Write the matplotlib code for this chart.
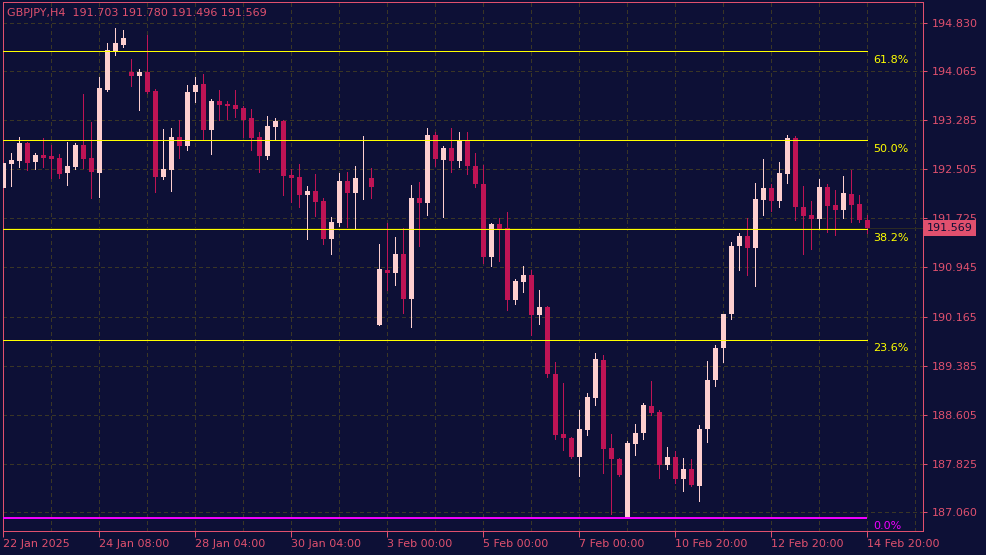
import matplotlib
matplotlib.use("Agg")
import matplotlib.pyplot as plt
import matplotlib.transforms as mtransforms
import numpy as np

# ---------------- data ----------------
title_text = "GBPJPY,H4  191.703 191.780 191.496 191.569"

opens = [192.21, 192.58, 192.64, 192.92, 192.62, 192.73, 192.71, 192.68, 192.44, 192.54,
         192.89, 192.68, 192.44, 193.76, 194.38, 194.48, 194.05, 193.98, 194.05, 193.75,
         192.38, 192.49, 193.02, 192.87, 193.73, 193.86, 193.13, 193.59, 193.54, 193.52,
         193.48, 193.32, 193.02, 192.71, 193.18, 193.27, 192.41, 192.38, 192.10, 192.16,
         192.00, 191.40, 191.65, 192.32, 192.13, 192.36, 192.37, 190.03, 190.91, 190.86,
         191.16, 190.45, 192.05, 191.97, 193.05, 192.65, 192.84, 192.64, 192.97, 192.56,
         192.27, 191.11, 191.64, 191.57, 190.43, 190.72, 190.83, 190.19, 190.32, 189.26,
         188.30, 188.24, 187.94, 188.37, 188.88, 189.48, 188.08, 187.91, 186.99, 188.14,
         188.32, 188.75, 188.65, 187.81, 187.94, 187.59, 187.75, 187.48, 188.38, 189.16,
         189.66, 190.20, 191.28, 191.45, 191.25, 192.02, 192.21, 192.00, 192.43, 193.00,
         191.91, 191.78, 191.72, 192.22, 191.94, 191.86, 192.11, 191.95, 191.703]
highs = [192.75, 192.76, 193.02, 192.93, 192.76, 193.00, 192.89, 192.75, 192.94, 192.92,
         193.70, 193.25, 193.97, 194.51, 194.75, 194.71, 194.25, 194.10, 194.64, 193.78,
         193.14, 193.16, 193.28, 193.84, 193.97, 194.02, 193.62, 193.76, 193.59, 193.76,
         193.51, 193.46, 193.10, 193.35, 193.32, 193.29, 192.51, 192.59, 192.24, 192.43,
         192.05, 191.75, 192.44, 192.46, 192.56, 193.03, 192.52, 191.32, 191.65, 191.43,
         191.57, 192.25, 192.30, 193.16, 193.10, 192.87, 193.16, 193.10, 193.10, 192.76,
         192.57, 191.65, 191.73, 191.83, 190.76, 190.97, 190.91, 190.59, 190.34, 189.45,
         189.11, 188.26, 188.68, 188.95, 189.59, 189.56, 188.30, 187.92, 188.19, 188.46,
         188.79, 189.14, 188.68, 188.10, 188.03, 187.92, 187.91, 188.45, 189.46, 189.72,
         190.21, 191.35, 191.49, 191.73, 192.29, 192.67, 192.27, 192.62, 193.05, 193.03,
         192.24, 192.00, 192.35, 192.27, 192.18, 192.40, 192.49, 192.10, 191.780]
lows = [191.69, 192.24, 192.54, 192.49, 192.51, 192.54, 192.37, 192.37, 192.25, 192.51,
        192.52, 192.05, 192.06, 193.75, 194.32, 194.44, 193.83, 193.44, 193.72, 192.14,
        192.35, 192.16, 192.68, 192.81, 193.57, 192.97, 192.75, 193.29, 193.30, 193.33,
        193.02, 192.81, 192.46, 192.67, 192.97, 192.10, 191.98, 191.91, 191.40, 191.76,
        191.32, 191.16, 191.60, 191.59, 191.57, 192.03, 192.05, 190.03, 190.59, 190.67,
        190.22, 190.00, 191.29, 191.78, 192.56, 191.75, 192.46, 192.54, 192.43, 192.22,
        191.02, 190.97, 191.05, 190.27, 190.37, 190.56, 189.87, 190.05, 189.21, 188.22,
        188.05, 187.92, 187.64, 188.29, 188.76, 187.68, 187.03, 187.64, 186.97, 187.97,
        188.22, 188.60, 187.60, 187.75, 187.53, 187.40, 187.48, 187.24, 188.18, 189.06,
        189.45, 190.13, 190.91, 190.83, 190.65, 191.78, 191.84, 191.91, 192.29, 191.70,
        191.16, 191.24, 191.57, 191.51, 191.46, 191.73, 191.67, 191.67, 191.496]
closes = [192.60, 192.65, 192.92, 192.60, 192.73, 192.68, 192.67, 192.43, 192.56, 192.89,
          192.67, 192.46, 193.79, 194.40, 194.51, 194.59, 193.98, 194.05, 193.73, 192.38,
          192.51, 193.02, 192.87, 193.73, 193.84, 193.13, 193.59, 193.52, 193.51, 193.46,
          193.29, 193.00, 192.71, 193.19, 193.27, 192.40, 192.37, 192.10, 192.16, 191.98,
          191.40, 191.67, 192.32, 192.13, 192.37, 192.365, 192.22, 190.92, 190.86, 191.16,
          190.45, 192.05, 191.97, 193.05, 192.67, 192.84, 192.64, 192.97, 192.56, 192.27,
          191.11, 191.64, 191.56, 190.43, 190.73, 190.83, 190.19, 190.32, 189.26, 188.29,
          188.24, 187.94, 188.38, 188.89, 189.49, 188.06, 187.91, 187.65, 188.16, 188.32,
          188.76, 188.64, 187.81, 187.94, 187.59, 187.75, 187.49, 188.38, 189.16, 189.67,
          190.21, 191.29, 191.45, 191.25, 192.03, 192.21, 192.00, 192.44, 193.00, 191.91,
          191.76, 191.72, 192.22, 191.92, 191.86, 192.13, 191.94, 191.70, 191.569]

y_tick_values = [194.830, 194.065, 193.285, 192.505, 191.725, 190.945,
                 190.165, 189.385, 188.605, 187.825, 187.060]
y_tick_labels = ["194.830", "194.065", "193.285", "192.505", "191.725", "190.945",
                 "190.165", "189.385", "188.605", "187.825", "187.060"]
x_tick_index = [0, 12, 24, 36, 48, 60, 72, 84, 96, 108]
x_tick_labels = ["22 Jan 2025", "24 Jan 08:00", "28 Jan 04:00", "30 Jan 04:00",
                 "3 Feb 00:00", "5 Feb 00:00", "7 Feb 00:00", "10 Feb 20:00",
                 "12 Feb 20:00", "14 Feb 20:00"]

fib_low = 186.974
fib_high = 198.954
fib_ratios = [0.0, 0.236, 0.382, 0.5, 0.618]
fib_labels = ["0.0%", "23.6%", "38.2%", "50.0%", "61.8%"]
last_price = 191.569

# ---------------- style ----------------
BG = "#0d1036"
FG = "#e0506e"
BULL = "#fdcfcf"
BEAR = "#be1455"
GRID = "#3a3626"
YELLOW = "#ffff00"
MAGENTA = "#f000ff"
PX = 72.0 / 100.0  # one pixel in points

o = np.array(opens); h = np.array(highs); l = np.array(lows); c = np.array(closes)
n = len(o)
x = np.arange(n)
bull = c >= o
cols = np.where(bull, BULL, BEAR)

fig = plt.figure(figsize=(9.87, 5.55), dpi=100, facecolor=BG)
ax = fig.add_axes([3 / 987, 24 / 555, 920 / 987, 529 / 555])
ax.set_facecolor(BG)

ax.set_xlim(-0.04, 115.0)
ax.set_ylim(186.763, 195.158)

# grid
ax.set_xticks(x_tick_index)
ax.set_xticklabels(x_tick_labels)
ax.set_xticks(np.arange(6, 115, 12), minor=True)
ax.set_yticks(y_tick_values)
ax.set_yticklabels(y_tick_labels)
ax.grid(True, which="both", color=GRID, linewidth=PX, linestyle=(0, (4, 4)),
        zorder=0, antialiased=False)
ax.set_axisbelow(True)

# price line
ax.axhline(last_price, color="#2c2a24", linewidth=PX, zorder=1, antialiased=False)

# candles
ax.vlines(x, l, h, colors=cols, linewidth=PX, zorder=2, antialiased=False)
body_h = np.maximum(np.abs(c - o), 0.012)
ax.bar(x, body_h, bottom=np.minimum(o, c), width=0.625, color=cols,
       linewidth=0, zorder=3, antialiased=False)

# fibonacci levels
for r, lab in zip(fib_ratios, fib_labels):
    lvl = fib_low + r * (fib_high - fib_low)
    is_zero = r == 0.0
    col = MAGENTA if is_zero else YELLOW
    ax.hlines(lvl, -1, n - 1, colors=col, linewidth=2 * PX if is_zero else PX,
              zorder=4, antialiased=False)
    ax.annotate(lab, xy=(n - 1 + 0.75, lvl), xytext=(0, -2.6), textcoords="offset points",
                ha="left", va="top", color=col, fontsize=8, annotation_clip=False, zorder=5)

# spines and ticks
for s in ax.spines.values():
    s.set_color(FG)
    s.set_linewidth(PX)
ax.yaxis.tick_right()
ax.tick_params(axis="y", which="both", colors=FG, labelcolor=FG, labelsize=8,
               length=3, width=PX, pad=3, direction="out")
ax.tick_params(axis="x", which="major", colors=FG, labelcolor=FG, labelsize=8,
               length=4, width=PX, pad=1.5, direction="out")
ax.tick_params(axis="x", which="minor", length=0)
for t in ax.get_xticklabels():
    t.set_ha("left")

# title
ax.text(4 / 920, 1 - 11 / 529, title_text, transform=ax.transAxes, ha="left",
        va="center", color=FG, fontsize=8, zorder=6)

# last price tag
trans = mtransforms.blended_transform_factory(ax.transAxes, ax.transData)
ax.text(1 + 4 / 920, last_price, "191.569", transform=trans, ha="left", va="center",
        color=BG, fontsize=8, clip_on=False, zorder=7,
        bbox=dict(boxstyle="square,pad=0.28", fc=FG, ec="none"))

fig.savefig("out.png", dpi=100, facecolor=BG)
